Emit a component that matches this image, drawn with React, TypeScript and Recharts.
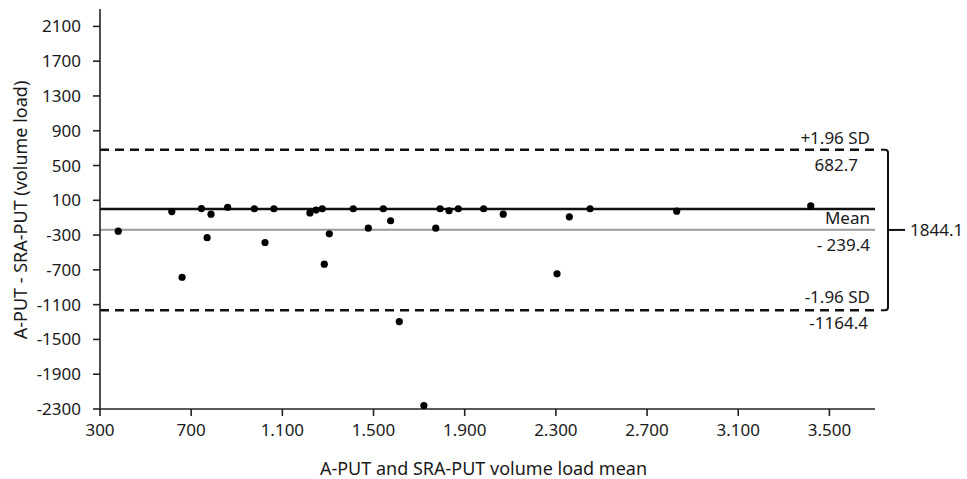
import React from "react";
import {
  ScatterChart,
  Scatter,
  XAxis,
  YAxis,
  ReferenceLine,
  ReferenceArea,
} from "recharts";

const meanValues = [380, 615, 660, 745, 770, 787, 860, 977, 1024, 1063, 1221, 1248, 1275, 1284, 1306, 1411, 1477, 1543, 1575, 1613, 1721, 1773, 1792, 1831, 1872, 1983, 2069, 2305, 2359, 2450, 2830, 3418];
const diffValues = [-255, -30, -785, 5, -330, -60, 20, 3, -385, 3, -45, -12, 3, -635, -285, 3, -220, 3, -135, -1295, -2260, -220, 3, -20, 3, 3, -60, -745, -90, 3, -25, 35];

const xTicks = [300, 700, 1100, 1500, 1900, 2300, 2700, 3100, 3500];
const yTicks = [-2300, -1900, -1500, -1100, -700, -300, 100, 500, 900, 1300, 1700, 2100];

const upperLimit = 682.7;
const meanDiff = -239.4;
const lowerLimit = -1164.4;
const zeroLine = 0;
const rangeLabel = "1844.1";

const data = meanValues.map((x, i) => ({ x, y: diffValues[i] }));

const FONT = "'Noto Sans', 'Open Sans', sans-serif";
const TXT = "#1a1a1a";

const fmtX = (v: number) =>
  v >= 1000 ? `${Math.floor(v / 1000)}.${String(v % 1000).padStart(3, "0")}` : String(v);

const LineLabel = (props: any) => {
  const { viewBox, top, bottom, upOff, downOff } = props;
  if (!viewBox) return null;
  const right = viewBox.x + viewBox.width - 5;
  const y = viewBox.y;
  return (
    <g>
      <text x={right} y={y + upOff} textAnchor="end" dominantBaseline="central" fontSize={17} fontFamily={FONT} fill={TXT}>
        {top}
      </text>
      <text x={right - (props.shift || 0)} y={y + downOff} textAnchor="end" dominantBaseline="central" fontSize={17} fontFamily={FONT} fill={TXT}>
        {bottom}
      </text>
    </g>
  );
};

const Bracket = (props: any) => {
  const { x, y, width, height } = props;
  const bx = x + width + 13;
  const y1 = y;
  const y2 = y + height;
  const mid = (y1 + y2) / 2;
  return (
    <g>
      <path
        d={`M ${bx - 7} ${y1} L ${bx - 3} ${y1} Q ${bx} ${y1} ${bx} ${y1 + 3} L ${bx} ${y2 - 3} Q ${bx} ${y2} ${bx - 3} ${y2} L ${bx - 7} ${y2}`}
        fill="none"
        stroke="#111"
        strokeWidth={2}
      />
      <line x1={bx} y1={mid} x2={bx + 17} y2={mid} stroke="#111" strokeWidth={2} />
      <text x={bx + 22} y={mid} dominantBaseline="central" fontSize={17} fontFamily={FONT} fill={TXT}>
        {rangeLabel}
      </text>
    </g>
  );
};

export default function App() {
  return (
    <div style={{ position: "absolute", left: 0, top: 0, background: "#fff" }}>
      <ScatterChart width={967} height={479} margin={{ top: 9, right: 92, bottom: 30, left: 0 }}>
        <XAxis
          type="number"
          dataKey="x"
          domain={[300, 3700]}
          ticks={xTicks}
          tickFormatter={fmtX}
          height={40}
          tickSize={7}
          tickMargin={8}
          axisLine={{ stroke: "#222", strokeWidth: 1.6 }}
          tickLine={{ stroke: "#222", strokeWidth: 1.6 }}
          tick={{ fill: TXT, fontSize: 17, fontFamily: FONT }}
          label={(p: any) => {
            const vb = p.viewBox;
            return (
              <text x={vb.x + vb.width / 2 - 4} y={vb.y + 59} textAnchor="middle" dominantBaseline="central" fontSize={18} fontFamily={FONT} fill={TXT}>
                A-PUT and SRA-PUT volume load mean
              </text>
            );
          }}
        />
        <YAxis
          type="number"
          dataKey="y"
          domain={[-2300, 2300]}
          ticks={yTicks}
          width={100}
          tickSize={7}
          tickMargin={12}
          interval={0}
          axisLine={{ stroke: "#222", strokeWidth: 1.6 }}
          tickLine={{ stroke: "#222", strokeWidth: 1.6 }}
          tick={{ fill: TXT, fontSize: 17, fontFamily: FONT }}
          label={(p: any) => {
            const vb = p.viewBox;
            const cx = vb.x + 20;
            const cy = vb.y + vb.height / 2 + 1;
            return (
              <text x={cx} y={cy} transform={`rotate(-90 ${cx} ${cy})`} textAnchor="middle" dominantBaseline="central" fontSize={18} fontFamily={FONT} fill={TXT}>
                A-PUT - SRA-PUT (volume load)
              </text>
            );
          }}
        />
        <ReferenceArea y1={lowerLimit} y2={upperLimit} ifOverflow="visible" shape={<Bracket />} />
        <ReferenceLine
          y={upperLimit}
          stroke="#111"
          strokeWidth={2.5}
          strokeDasharray="9 6"
          label={<LineLabel top="+1.96 SD" bottom="682.7" upOff={-12} downOff={15} shift={12} />}
        />
        <ReferenceLine
          y={meanDiff}
          stroke="#9a9a9a"
          strokeWidth={2}
          label={<LineLabel top="Mean" bottom="- 239.4" upOff={-12} downOff={15} shift={0} />}
        />
        <ReferenceLine y={zeroLine} stroke="#111" strokeWidth={2.5} />
        <ReferenceLine
          y={lowerLimit}
          stroke="#111"
          strokeWidth={2.5}
          strokeDasharray="9 6"
          label={<LineLabel top="-1.96 SD" bottom="-1164.4" upOff={-14} downOff={12} shift={2} />}
        />
        <Scatter
          data={data}
          isAnimationActive={false}
          shape={(p: any) => <circle cx={p.cx} cy={p.cy} r={3.6} fill="#000" />}
        />
      </ScatterChart>
    </div>
  );
}
